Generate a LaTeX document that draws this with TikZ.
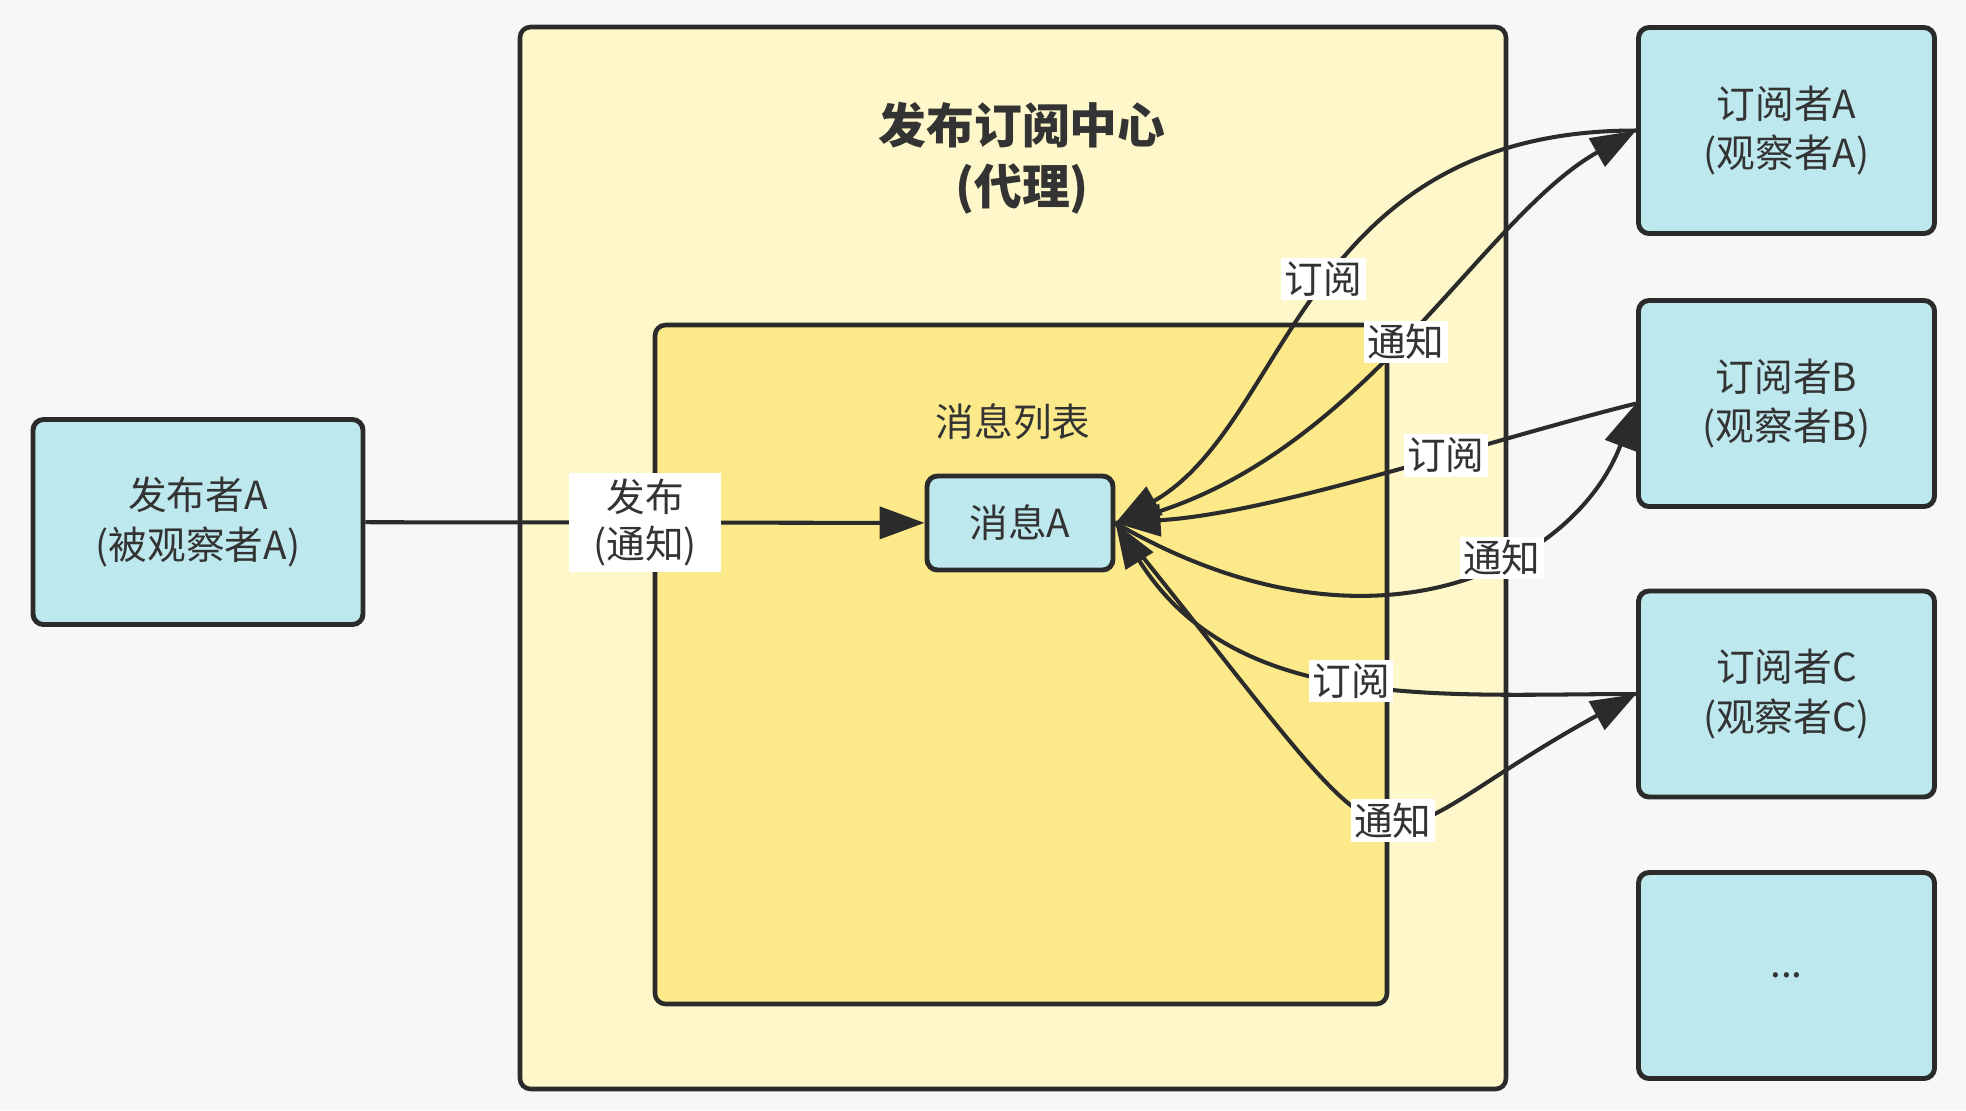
\documentclass[tikz,border=0pt]{standalone}
\usepackage{fontspec}
\setmainfont{Noto Sans CJK SC}
\usetikzlibrary{arrows.meta,positioning}
\definecolor{bgc}{HTML}{F7F7F7}
\definecolor{hubc}{HTML}{FDF7C9}
\definecolor{listc}{HTML}{FCEA8A}
\definecolor{boxc}{HTML}{BDE8EE}
\definecolor{inkc}{HTML}{2B2B2B}
\definecolor{txtc}{HTML}{333333}
\tikzset{
  box/.style={draw=inkc, line width=1.4pt, rectangle, rounded corners=3pt, fill=boxc, align=center, text=txtc, font=\fontsize{11}{14}\selectfont, minimum width=2.96cm, minimum height=2.06cm, inner sep=0pt},
  area/.style={draw=inkc, line width=1.3pt, rectangle, rounded corners=3pt, inner sep=0pt},
  arr/.style={-{Triangle[length=4.5mm,width=3.2mm]}, line width=1.15pt, draw=inkc},
  lbl/.style={fill=white, inner sep=1pt, text=txtc, font=\fontsize{11}{13.5}\selectfont, align=center},
  capn/.style={text=txtc, align=center},
}
\begin{document}
\begin{tikzpicture}[x=1cm,y=1cm]
\fill[bgc] (0,0) rectangle (19.66,-11.10);
% broker and message list
\node[area, fill=hubc, minimum width=9.86cm, minimum height=10.62cm] (hub) at (10.13,-5.58) {};
\node[area, fill=listc, minimum width=7.32cm, minimum height=6.79cm] (list) at (10.21,-6.645) {};
\node[capn, font=\bfseries\fontsize{13.6}{17.5}\selectfont] (title) at (10.22,-1.58) {发布订阅中心\\(代理)};
\node[capn, font=\fontsize{11}{13.5}\selectfont] (listname) at (10.13,-4.22) {消息列表};
% publisher, message, subscribers
\node[box, minimum width=3.30cm, minimum height=2.05cm] (pub) at (1.98,-5.22) {发布者A\\(被观察者A)};
\node[box, minimum width=1.86cm, minimum height=0.94cm] (msg) at (10.20,-5.23) {消息A};
\node[box] (subA) at (17.865,-1.305) {订阅者A\\(观察者A)};
\node[box] (subB) at (17.865,-4.035) {订阅者B\\(观察者B)};
\node[box] (subC) at (17.865,-6.94) {订阅者C\\(观察者C)};
\node[box] (more) at (17.865,-9.755) {...};
% connectors
\draw[arr] (pub) -- node[lbl, inner xsep=7pt, inner ysep=1.5pt]{发布\\(通知)} (msg);
\draw[arr] (subA.west) .. controls +(-3.36,0) and +(1.75,1.0) .. node[lbl,pos=0.48]{订阅} (msg.east);
\draw[arr] (msg.east) .. controls +(2.4,0.5) and +(-1.6,-0.9) .. node[lbl,pos=0.5]{通知} (subA.west);
\draw[arr] (subB.west) .. controls +(-1.6,-0.4) and +(1.6,0.1) .. node[lbl,pos=0.37]{订阅} (msg.east);
\draw[arr] (msg.east) .. controls +(2.6,-1.5) and +(-0.6,-1.6) .. node[lbl,pos=0.6]{通知} (subB.west);
\draw[arr] (subC.west) .. controls +(-2.0,0) and +(1.2,-1.9) .. node[lbl,pos=0.49]{订阅} (msg.east);
\draw[arr] (msg.east) .. controls +(3.2,-3.96) and +(-3.0,-1.65) .. node[lbl,pos=0.53]{通知} (subC.west);
\end{tikzpicture}
\end{document}
